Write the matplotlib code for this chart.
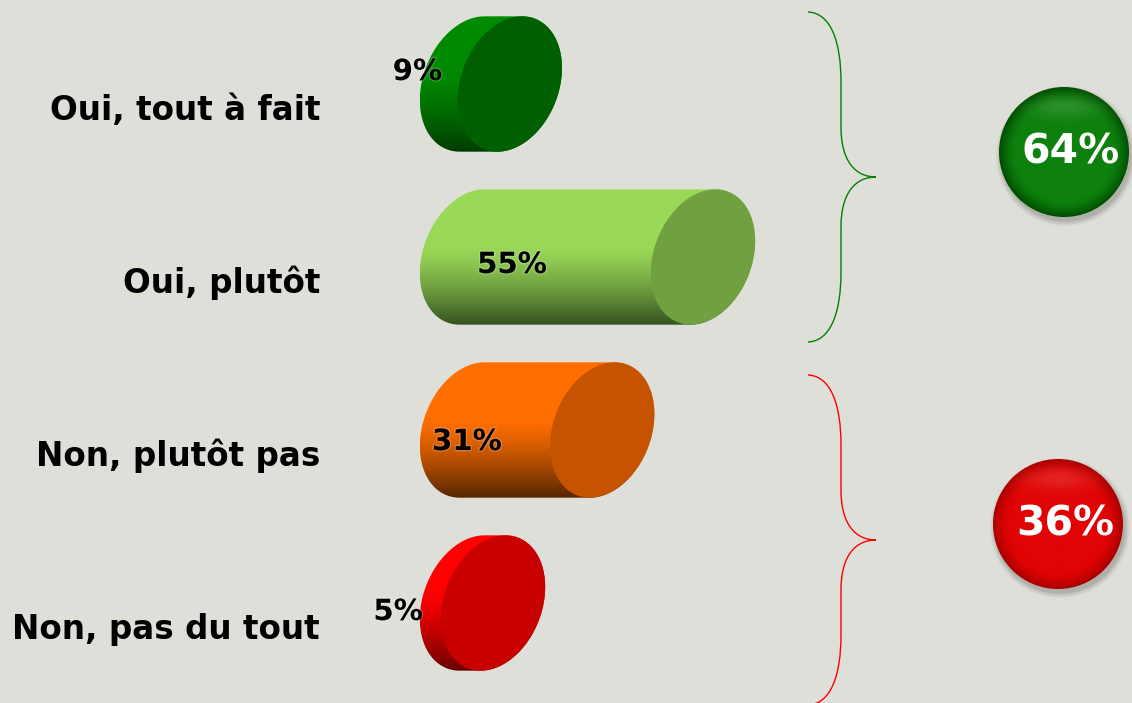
import numpy as np
import matplotlib
matplotlib.use("Agg")
import matplotlib.pyplot as plt
from matplotlib.patches import Polygon, Ellipse, PathPatch
from matplotlib.path import Path
from matplotlib.colors import to_rgb
import matplotlib.patheffects as pe

# ---- data ----
categories = ["Oui, tout à fait", "Oui, plutôt", "Non, plutôt pas", "Non, pas du tout"]
values = [9, 55, 31, 5]
body_light = ["#008a00", "#9ad957", "#ff6e00", "#ff0000"]
body_dark = ["#003c00", "#365220", "#552500", "#6a0000"]
cap_colors = ["#006000", "#70a040", "#c65300", "#c80000"]

group_totals = [64, 36]
group_colors = ["#008000", "#ff0000"]
circle_light = ["#0d800d", "#e00404"]
circle_dark = ["#004c00", "#a80000"]

# ---- layout (pixel geometry of the original) ----
W, H = 1132, 703
X0_PX = 472          # where value 0 sits (centre of bar's back end)
PX_PER_PCT = 4.2
Y0_PX = 84           # centre of first bar
PX_PER_CAT = 173
A_PX, B_PX, TILT = 49, 70, 21   # tilted end ellipse

label_dy = 36                     # baseline below bar centre (px)
value_pos = [(-13, -12), (9.5, 8), (-1.2, 12), (-17.6, 9)]  # (x in %, dy px)
brace_mid_px = [177, 540]
circle_px = [(1064, 152), (1058, 524)]
circle_r = 65


def dx(px):
    return px / PX_PER_PCT


def dy(px):
    return px / PX_PER_CAT


def px2x(px):
    return (px - X0_PX) / PX_PER_PCT


def px2y(py):
    return (py - Y0_PX) / PX_PER_CAT


def cylinder_outline(value, yc):
    """Body outline (convex hull of the two tilted end ellipses) and the front cap."""
    n = 360
    t = np.linspace(0, 2 * np.pi, n, endpoint=False)
    ex, ey = A_PX * np.cos(t), B_PX * np.sin(t)
    th = np.radians(TILT)
    rx = ex * np.cos(th) + ey * np.sin(th)
    ry = -ex * np.sin(th) + ey * np.cos(th)   # y up
    i_top, i_bot = np.argmax(ry), np.argmin(ry)

    def arc(i0, i1):
        return (i0 + np.arange((i1 - i0) % n + 1)) % n

    left = arc(i_top, i_bot)
    right = arc(i_bot, i_top)
    xs = np.concatenate([dx(rx[left]), value + dx(rx[right])])
    ys = np.concatenate([yc - dy(ry[left]), yc - dy(ry[right])])
    body = np.column_stack([xs, ys])
    cap = np.column_stack([value + dx(rx), yc - dy(ry)])
    return body, cap


fig = plt.figure(figsize=(W / 100, H / 100), dpi=100)
bg = "#dfdfd9"
fig.patch.set_facecolor(bg)
ax = fig.add_axes([0, 0, 1, 1])
ax.set_facecolor(bg)
ax.set_xlim(px2x(0), px2x(W))
ax.set_ylim(px2y(H), px2y(0))
ax.axis("off")

for i, (cat, val) in enumerate(zip(categories, values)):
    body, cap = cylinder_outline(val, i)

    # vertical gradient on the body
    s = np.linspace(0, 1, 200)
    k = np.clip((s - 0.42) / 0.58, 0, 1) ** 1.3
    c1, c2 = np.array(to_rgb(body_light[i])), np.array(to_rgb(body_dark[i]))
    grad = (c1[None, :] * (1 - k[:, None]) + c2[None, :] * k[:, None])[:, None, :]
    poly = Polygon(body, closed=True, facecolor="none", edgecolor="none")
    ax.add_patch(poly)
    y_top, y_bot = body[:, 1].min(), body[:, 1].max()
    im = ax.imshow(grad, extent=(body[:, 0].min(), body[:, 0].max(), y_bot, y_top),
                   origin="upper", aspect="auto", interpolation="bilinear", zorder=2)
    im.set_clip_path(poly)

    ax.add_patch(Polygon(cap, closed=True, facecolor=cap_colors[i],
                         edgecolor="none", zorder=3))

    ax.text(px2x(320), i + dy(label_dy), cat, ha="right", va="baseline",
            fontsize=23.5, fontweight="bold", color="black", family="DejaVu Sans")

    vx, vdy = value_pos[i]
    ax.text(vx, i + dy(vdy), f"{val}%", ha="center", va="center",
            fontsize=21, fontweight="bold", color="black", zorder=5,
            path_effects=[pe.withStroke(linewidth=2, foreground="#ffffff", alpha=0.2)])

# braces
for g in range(2):
    cy = px2y(brace_mid_px[g])
    tip = px2x(876)
    pts_px = [(-68, -165), (-45, -164), (-35, -135), (-35, -95),
              (-35, -50),
              (-35, -15), (-20, 0), (0, 0),
              (-20, 0), (-35, 15), (-35, 50),
              (-35, 95),
              (-35, 135), (-45, 164), (-68, 165)]
    codes = [Path.MOVETO, Path.CURVE4, Path.CURVE4, Path.CURVE4,
             Path.LINETO,
             Path.CURVE4, Path.CURVE4, Path.CURVE4,
             Path.CURVE4, Path.CURVE4, Path.CURVE4,
             Path.LINETO,
             Path.CURVE4, Path.CURVE4, Path.CURVE4]
    verts = [(tip + dx(px), cy + dy(py)) for px, py in pts_px]
    ax.add_patch(PathPatch(Path(verts, codes), facecolor="none",
                           edgecolor=group_colors[g], lw=1.0, zorder=2))

# total circles
for g, total in enumerate(group_totals):
    cxp, cyp = circle_px[g]
    cx, cy = px2x(cxp), px2y(cyp)
    for k_, a in enumerate([0.04, 0.05, 0.06, 0.08]):
        r = circle_r + 5 - k_ * 1.5
        ax.add_patch(Ellipse((cx + dx(2), cy + dy(4)), 2 * dx(r), 2 * dy(r),
                             facecolor="black", alpha=a, edgecolor="none", zorder=2))
    circ = Ellipse((cx, cy), 2 * dx(circle_r), 2 * dy(circle_r),
                   facecolor="none", edgecolor="none", zorder=3)
    ax.add_patch(circ)
    n = 200
    u = np.linspace(-1, 1, n)
    X, Y = np.meshgrid(u, u)
    rr = np.sqrt(X ** 2 + Y ** 2)
    edge = np.clip((rr - 0.75) / 0.25, 0, 1) ** 1.6
    hl = np.exp(-((X) ** 2 / 0.3 + (Y + 0.7) ** 2 / 0.03)) * 0.12
    c1, c2 = np.array(to_rgb(circle_light[g])), np.array(to_rgb(circle_dark[g]))
    img = c1 * (1 - edge[..., None]) + c2 * edge[..., None]
    img = np.clip(img + hl[..., None] * (1 - img), 0, 1)
    im = ax.imshow(img, extent=(cx - dx(circle_r), cx + dx(circle_r),
                                cy + dy(circle_r), cy - dy(circle_r)),
                   origin="upper", aspect="auto", interpolation="bilinear", zorder=3)
    im.set_clip_path(circ)
    ax.text(cx + dx(7), cy, f"{total}%", ha="center", va="center",
            fontsize=29.5, fontweight="bold", color="white", zorder=4)

fig.savefig("out.png", dpi=100, facecolor=bg)
